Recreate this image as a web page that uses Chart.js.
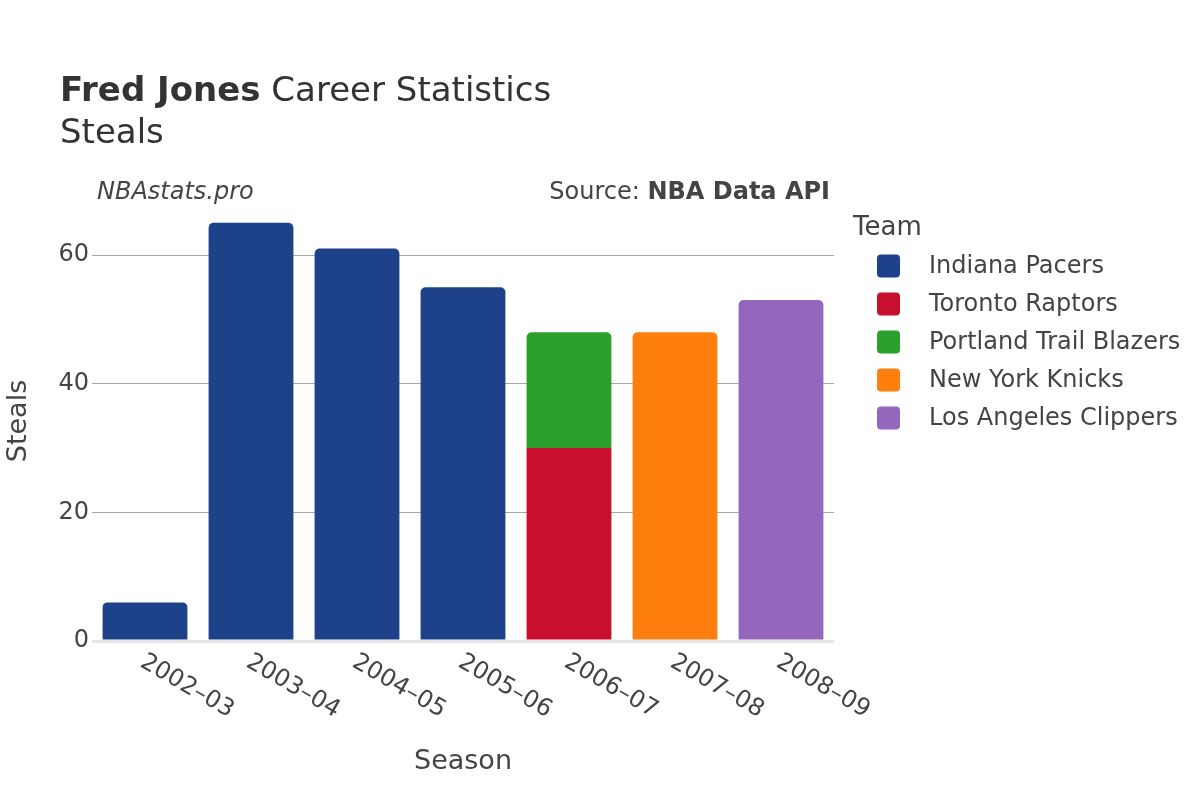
<!DOCTYPE html>
<html>
<head>
<meta charset="utf-8">
<script src="https://cdn.jsdelivr.net/npm/chart.js@4/dist/chart.umd.min.js"></script>
<style>
  body { margin: 0; background: #fff; }
  #wrap { width: 1200px; height: 800px; }
</style>
</head>
<body>
<div id="wrap"><canvas id="myChart" width="1200" height="800"></canvas></div>
<script>
// Data
const seasons = ['2002–03', '2003–04', '2004–05', '2005–06', '2006–07', '2007–08', '2008–09'];
const teams = ['Indiana Pacers', 'Toronto Raptors', 'Portland Trail Blazers', 'New York Knicks', 'Los Angeles Clippers'];
const indiana = [6, 65, 61, 55, null, null, null];
const toronto = [null, null, null, null, 30, null, null];
const portland = [null, null, null, null, 18, null, null];
const knicks = [null, null, null, null, null, 48, null];
const clippers = [null, null, null, null, null, null, 53];
const yTicks = [0, 20, 40, 60];

const teamColors = ['#1d428a', '#c8102e', '#2ca02c', '#ff7f0e', '#9467bd'];
const FONT = "'DejaVu Sans', sans-serif";
const topRound = { topLeft: 5, topRight: 5, bottomLeft: 0, bottomRight: 0 };

// titles, legend and rotated season labels
const decorations = {
    id: 'decorations',
    afterDraw(chart) {
        const c = chart.ctx;
        const area = chart.chartArea;
        c.save();
        c.textBaseline = 'alphabetic';
        c.textAlign = 'left';

        // title
        c.fillStyle = '#333';
        c.font = 'bold 34px ' + FONT;
        c.fillText('Fred Jones', 60, 101);
        const w = c.measureText('Fred Jones').width;
        c.font = '34px ' + FONT;
        c.fillText(' Career Statistics', 60 + w, 101);
        c.fillText('Steals', 60, 143);

        // credits
        c.fillStyle = '#444';
        c.font = 'italic 24px ' + FONT;
        c.fillText('NBAstats.pro', 97, 199);
        c.textAlign = 'right';
        c.font = 'bold 24px ' + FONT;
        c.fillText('NBA Data API', 830, 199);
        const bw = c.measureText('NBA Data API').width;
        c.font = '24px ' + FONT;
        c.fillText('Source: ', 830 - bw, 199);

        // legend
        c.textAlign = 'left';
        c.font = '26px ' + FONT;
        c.fillText('Team', 853, 235);
        c.font = '24px ' + FONT;
        c.textBaseline = 'middle';
        chart.data.datasets.forEach((ds, i) => {
            const y = 266 + i * 38;
            c.fillStyle = ds.backgroundColor;
            c.beginPath();
            c.roundRect(877, y - 11.5, 23, 23, 4);
            c.fill();
            c.fillStyle = '#444';
            c.fillText(ds.label, 929, y + 1);
        });

        // season tick labels, rotated 30 degrees
        const xs = chart.scales.x;
        c.font = '24px ' + FONT;
        c.textBaseline = 'top';
        seasons.forEach((s, i) => {
            const x = xs.getPixelForTick(i);
            c.save();
            c.translate(x + 3, area.bottom + 9);
            c.rotate(Math.PI / 6);
            c.fillText(s, 0, 0);
            c.restore();
        });

        // axis titles
        c.textAlign = 'center';
        c.textBaseline = 'alphabetic';
        c.font = '27px ' + FONT;
        c.fillText('Season', (area.left + area.right) / 2, 769);
        c.save();
        c.translate(26, (area.top + area.bottom) / 2);
        c.rotate(-Math.PI / 2);
        c.fillText('Steals', 0, 0);
        c.restore();
        c.restore();
    }
};

const seriesValues = [indiana, toronto, portland, knicks, clippers];

const ctx = document.getElementById('myChart').getContext('2d');
const chart = new Chart(ctx, {
    type: 'bar',
    data: {
        labels: seasons,
        datasets: teams.map((team, i) => ({
            label: team,
            data: seriesValues[i],
            backgroundColor: teamColors[i],
            borderWidth: 0,
            borderRadius: team === 'Toronto Raptors' ? 0 : topRound,
            borderSkipped: false,
            barPercentage: 0.8,
            categoryPercentage: 1.0
        }))
    },
    options: {
        responsive: false,
        animation: false,
        layout: { padding: { top: 201, right: 366, left: 0, bottom: 0 } },
        plugins: {
            legend: { display: false },
            title: { display: false },
            tooltip: { enabled: false }
        },
        scales: {
            x: {
                stacked: true,
                grid: { display: false },
                border: { display: false },
                ticks: { display: false },
                afterFit(scale) { scale.height = 159; }
            },
            y: {
                stacked: true,
                min: 0,
                max: 68.4,
                border: { display: false },
                grid: {
                    drawTicks: false,
                    color: c => c.tick && c.tick.value === 0 ? '#e6e6e6' : '#a8a8a8',
                    lineWidth: c => c.tick && c.tick.value === 0 ? 3 : 1
                },
                afterBuildTicks(scale) {
                    scale.ticks = yTicks.map(v => ({ value: v }));
                },
                ticks: {
                    includeBounds: false,
                    color: '#444',
                    padding: 3,
                    font: { family: FONT, size: 24 }
                },
                afterFit(scale) { scale.width = 92; }
            }
        }
    },
    plugins: [decorations]
});
</script>
</body>
</html>
